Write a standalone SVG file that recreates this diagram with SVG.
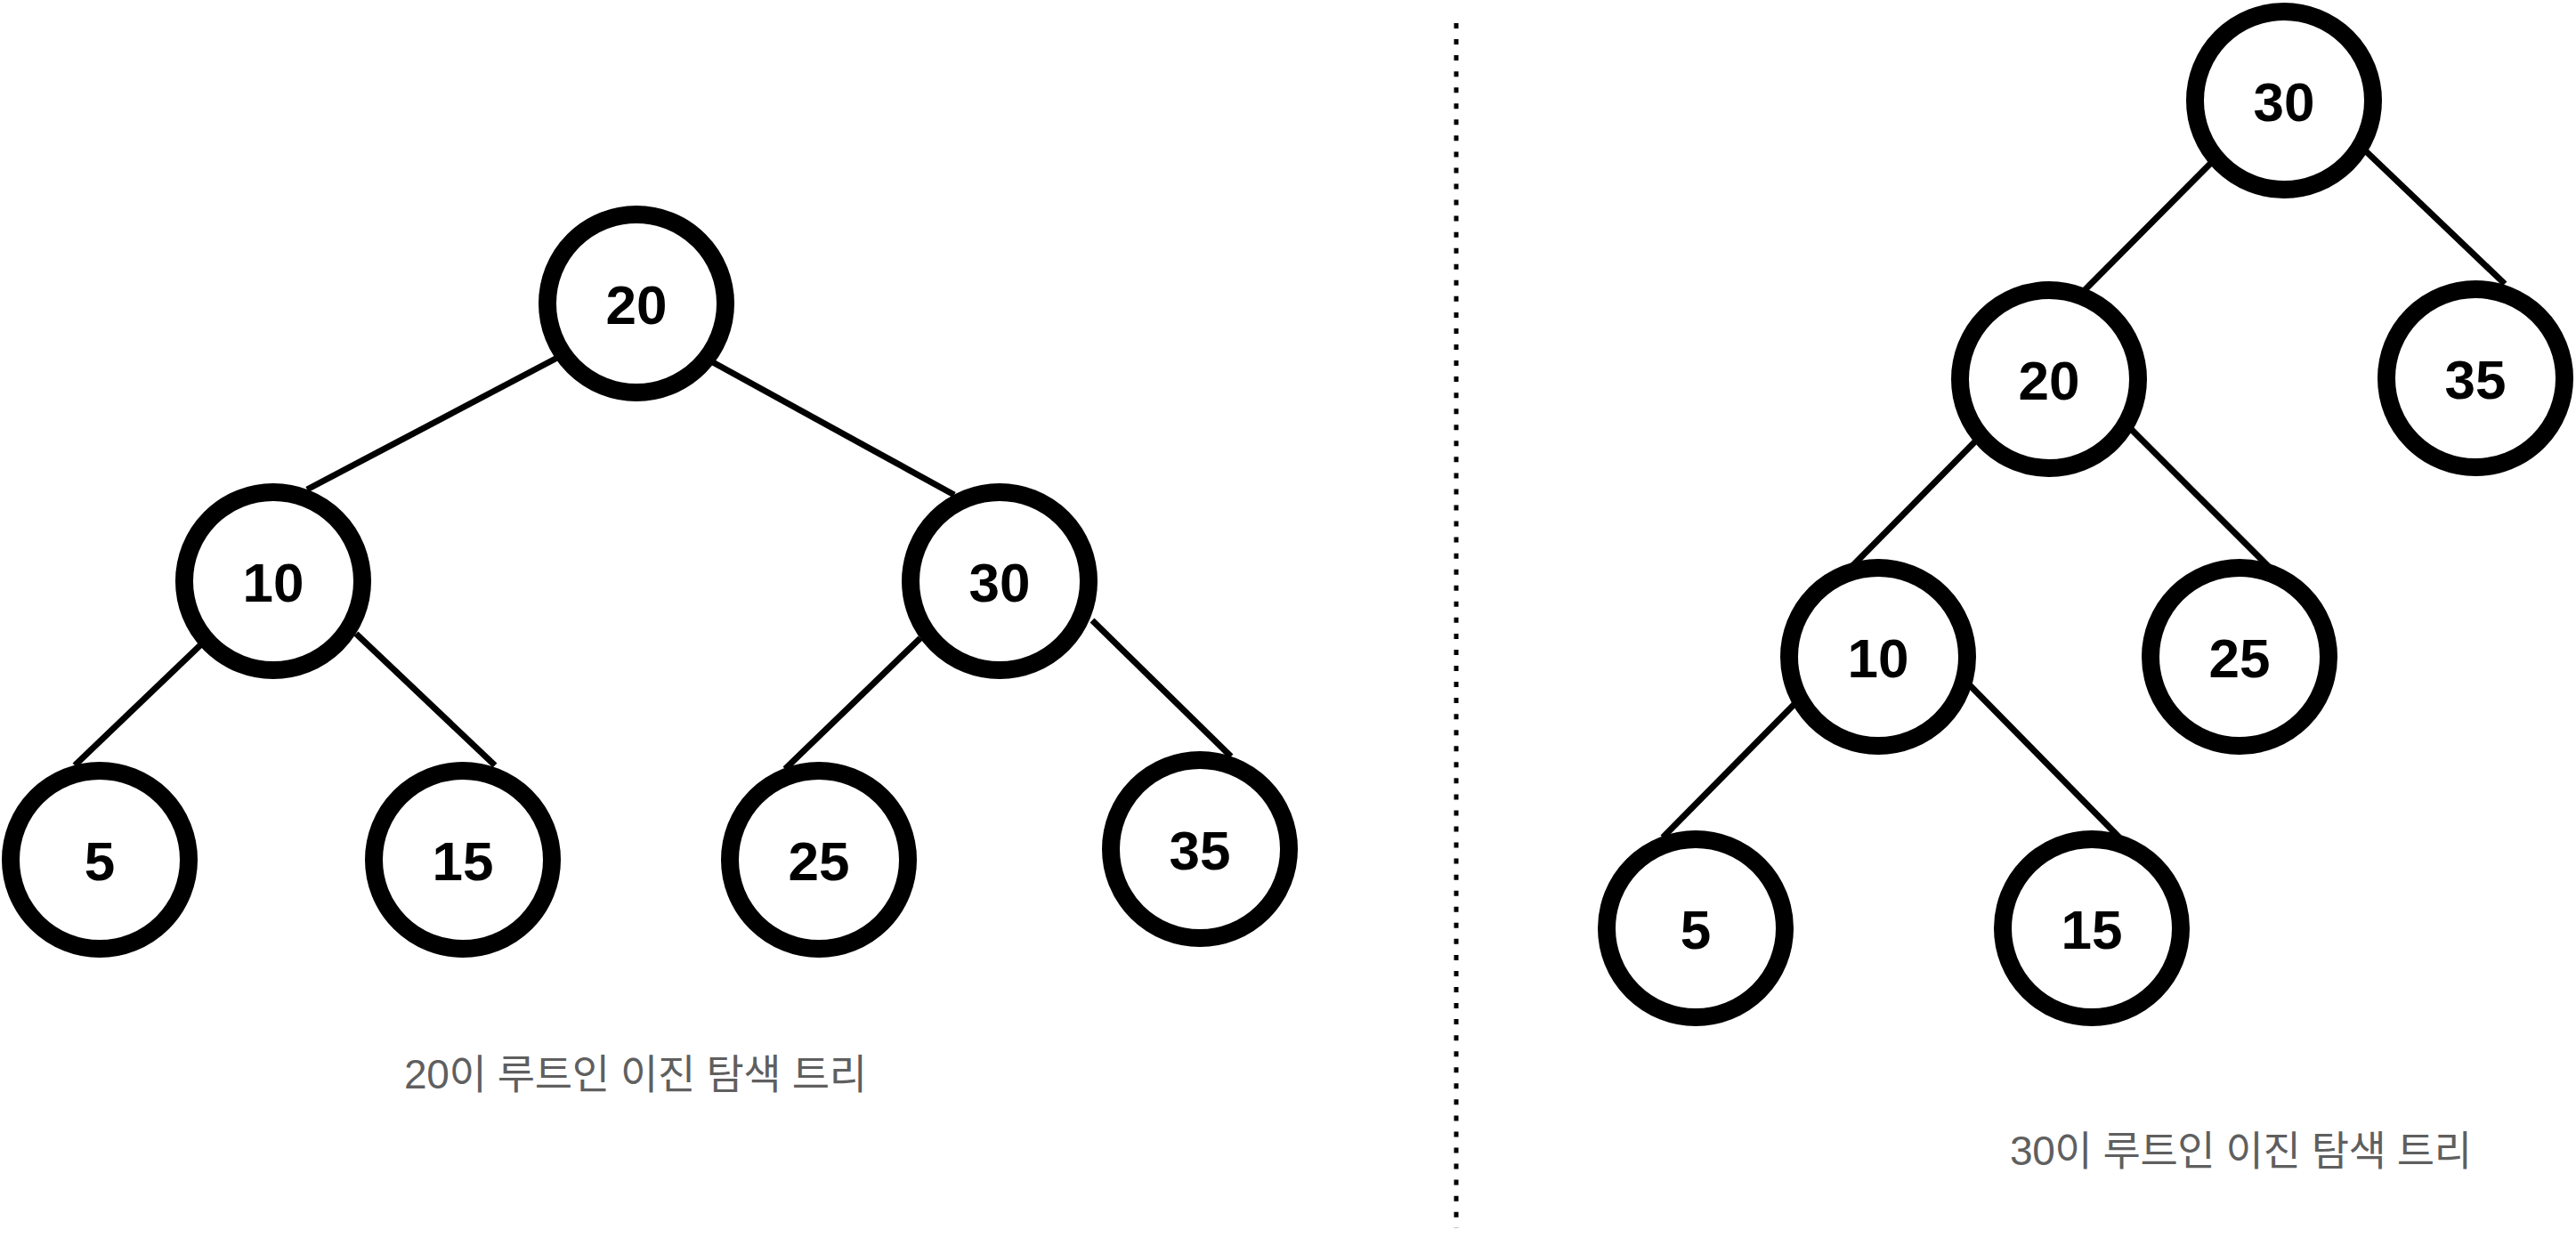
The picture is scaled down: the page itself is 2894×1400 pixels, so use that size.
<svg xmlns="http://www.w3.org/2000/svg" width="2894" height="1400" viewBox="0 0 2894 1400">
<style>
.n circle{fill:#fff;stroke:#000;stroke-width:20}
.n text{font-family:"Liberation Sans",Arial,sans-serif;font-weight:bold;font-size:62px;text-anchor:middle;fill:#000}
.e line{stroke:#000;stroke-width:7}
.cap{font-family:"Liberation Sans","Noto Sans CJK KR",sans-serif;font-size:46px;fill:#5f5f5f}
</style>
<rect width="2894" height="1400" fill="#fff"/>
<g id="connectors" class="e">
<line x1="626" y1="402" x2="345" y2="550"/>
<line x1="799" y1="406" x2="1072" y2="556"/>
<line x1="226" y1="724" x2="84" y2="860"/>
<line x1="400" y1="712" x2="556" y2="860"/>
<line x1="1034" y1="717" x2="882" y2="864"/>
<line x1="1227" y1="697" x2="1383" y2="850"/>
<line x1="2484" y1="183" x2="2340" y2="328"/>
<line x1="2658" y1="170" x2="2814" y2="319"/>
<line x1="2220" y1="495" x2="2080" y2="637"/>
<line x1="2394" y1="482" x2="2551" y2="639"/>
<line x1="2017" y1="790" x2="1868" y2="941"/>
<line x1="2213" y1="770" x2="2381" y2="941"/>
</g>
<line id="divider" x1="1636" y1="26" x2="1636" y2="1380" stroke="#000" stroke-width="5" stroke-dasharray="6 12.05"/>
<g id="L20" class="n"><circle cx="715" cy="341" r="100"/><text x="715" y="364">20</text></g>
<g id="L10" class="n"><circle cx="307" cy="653" r="100"/><text x="307" y="676">10</text></g>
<g id="L30" class="n"><circle cx="1123" cy="653" r="100"/><text x="1123" y="676">30</text></g>
<g id="L5" class="n"><circle cx="112" cy="966" r="100"/><text x="112" y="989">5</text></g>
<g id="L15" class="n"><circle cx="520" cy="966" r="100"/><text x="520" y="989">15</text></g>
<g id="L25" class="n"><circle cx="920" cy="966" r="100"/><text x="920" y="989">25</text></g>
<g id="L35" class="n"><circle cx="1348" cy="954" r="100"/><text x="1348" y="977">35</text></g>
<g id="R30" class="n"><circle cx="2566" cy="113" r="100"/><text x="2566" y="136">30</text></g>
<g id="R20" class="n"><circle cx="2302" cy="426" r="100"/><text x="2302" y="449">20</text></g>
<g id="R35" class="n"><circle cx="2781" cy="425" r="100"/><text x="2781" y="448">35</text></g>
<g id="R10" class="n"><circle cx="2110" cy="738" r="100"/><text x="2110" y="761">10</text></g>
<g id="R25" class="n"><circle cx="2516" cy="738" r="100"/><text x="2516" y="761">25</text></g>
<g id="R5" class="n"><circle cx="1905" cy="1043" r="100"/><text x="1905" y="1066">5</text></g>
<g id="R15" class="n"><circle cx="2350" cy="1043" r="100"/><text x="2350" y="1066">15</text></g>
<text id="capL" class="cap" x="454" y="1223" textLength="520" lengthAdjust="spacing">20이 루트인 이진 탐색 트리</text>
<text id="capR" class="cap" x="2258" y="1309" textLength="519" lengthAdjust="spacing">30이 루트인 이진 탐색 트리</text>
</svg>
